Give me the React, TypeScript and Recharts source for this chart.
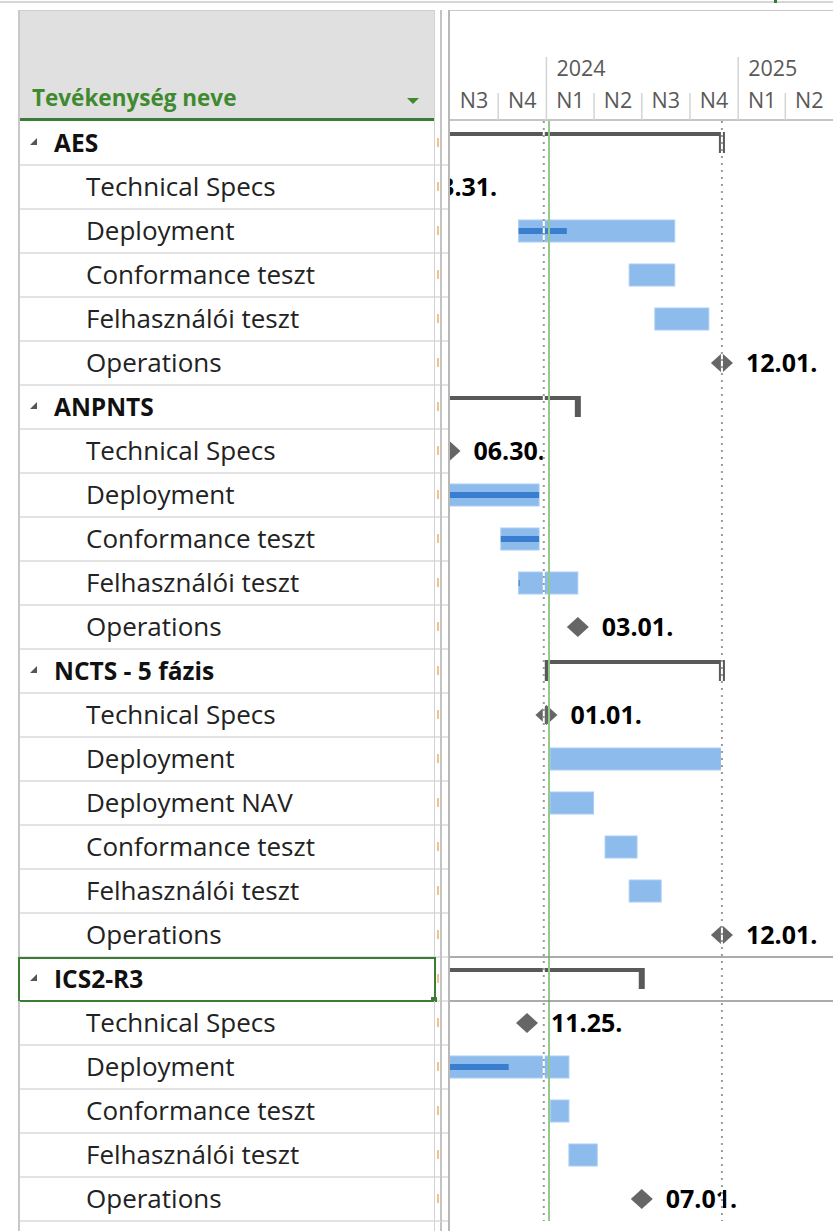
import { ComposedChart, Bar, XAxis, YAxis, ReferenceLine, ReferenceDot } from "recharts";

const FONT = '"Open Sans", "Noto Sans", sans-serif';

// rows of the task table, top to bottom
const rowNames = [
  "AES", "Technical Specs", "Deployment", "Conformance teszt", "Felhasználói teszt", "Operations",
  "ANPNTS", "Technical Specs", "Deployment", "Conformance teszt", "Felhasználói teszt", "Operations",
  "NCTS - 5 fázis", "Technical Specs", "Deployment", "Deployment NAV", "Conformance teszt", "Felhasználói teszt", "Operations",
  "ICS2-R3", "Technical Specs", "Deployment", "Conformance teszt", "Felhasználói teszt", "Operations",
];
// 0 = summary task, 1 = sub task
const rowLevels = [0, 1, 1, 1, 1, 1, 0, 1, 1, 1, 1, 1, 0, 1, 1, 1, 1, 1, 1, 0, 1, 1, 1, 1, 1];

const barStart: (string | null)[] = [
  "2023-03-31", null, "2023-11-09", "2024-06-07", "2024-07-26", null,
  "2023-01-02", null, "2023-01-02", "2023-10-06", "2023-11-09", null,
  "2024-01-01", null, "2024-01-08", "2024-01-08", "2024-04-22", "2024-06-07", null,
  "2023-04-01", null, "2023-04-01", "2024-01-09", "2024-02-13", null,
];
const barEnd: (string | null)[] = [
  "2024-12-01", null, "2024-09-02", "2024-09-02", "2024-11-06", null,
  "2024-03-01", null, "2023-12-18", "2023-12-18", "2024-03-01", null,
  "2024-12-01", null, "2024-11-30", "2024-03-31", "2024-06-22", "2024-08-07", null,
  "2024-07-01", null, "2024-02-13", "2024-02-13", "2024-04-07", null,
];
// % complete, shown as the date the progress reaches
const progressTo: (string | null)[] = [
  null, null, "2024-02-09", null, null, null,
  null, null, "2023-12-18", "2023-12-18", "2023-11-11", null,
  null, null, null, null, null, null, null,
  null, null, "2023-10-21", null, null, null,
];
const milestoneDate: (string | null)[] = [
  null, "2023-03-31", null, null, null, "2024-12-01",
  null, "2023-06-30", null, null, null, "2024-03-01",
  null, "2024-01-01", null, null, null, null, "2024-12-01",
  null, "2023-11-25", null, null, null, "2024-07-01",
];

const selectedRow = 19;
const quarterStarts = [
  "2023-07-01", "2023-10-01", "2024-01-01", "2024-04-01", "2024-07-01",
  "2024-10-01", "2025-01-01", "2025-04-01", "2025-07-01",
];
const quarterLabels = ["N3", "N4", "N1", "N2", "N3", "N4", "N1", "N2"];
const markerDates = ["2023-12-27", "2024-12-01"];
const todayDate = "2024-01-06";

const epoch = Date.parse(quarterStarts[0]);
const day = (s: string) => (Date.parse(s) - epoch) / 86400000;
const mmdd = (s: string) => `${s.slice(5, 7)}.${s.slice(8, 10)}.`;

const rows = rowNames.map((name, i) => ({
  id: `r${i}`,
  name,
  level: rowLevels[i],
  range: barStart[i] ? [day(barStart[i]!), day(barEnd[i]!)] : null,
  progress: progressTo[i] ? [day(barStart[i]!), day(progressTo[i]!)] : null,
}));

const domainMin = 0;
const domainMax = day(quarterStarts[quarterStarts.length - 1]);

function TaskShape(props: any) {
  const { x, y, width, height, payload } = props;
  if (!payload || !payload.range || width == null) return <g />;
  const cy = y + height / 2;
  if (payload.level === 0) {
    return (
      <g>
        <rect x={x} y={cy - 11} width={width} height={4} fill="#595959" />
        {payload.range[0] >= domainMin && <rect x={x - 3} y={cy - 11} width={6} height={21} fill="#595959" />}
        <rect x={x + width - 3} y={cy - 11} width={6} height={21} fill="#595959" />
      </g>
    );
  }
  return <rect x={x} y={y} width={width} height={height} fill="#8cbbec" stroke="#a9cdf3" strokeWidth={1} />;
}

function ProgressShape(props: any) {
  const { x, y, width, height, payload } = props;
  if (!payload || !payload.progress || width == null) return <g />;
  return <rect x={x} y={y} width={Math.max(width, 1)} height={height} fill="#3a7fcf" />;
}

function MilestoneShape(label: string) {
  return (props: any) => {
    const { cx, cy } = props;
    return (
      <g>
        <polygon points={`${cx - 11},${cy} ${cx},${cy - 10} ${cx + 11},${cy} ${cx},${cy + 10}`} fill="#666666" />
        <text x={cx + 24} y={cy + 9} fontFamily={FONT} fontSize={25} fontWeight={700} fill="#000">
          {label}
        </text>
      </g>
    );
  };
}

function QuarterTick(props: any) {
  const { x, index } = props;
  const label = quarterLabels[index];
  if (!label) return <g />;
  const isYear = label === "N1";
  return (
    <g>
      {index > 0 && <line x1={x} x2={x} y1={isYear ? 57 : 93} y2={120} stroke="#d4d4d4" strokeWidth={1.5} />}
      {isYear && (
        <text x={x + 10} y={76} fontFamily={FONT} fontSize={21.5} fill="#595959">
          {quarterStarts[index].slice(0, 4)}
        </text>
      )}
      <text x={x + 24} y={108} textAnchor="middle" fontFamily={FONT} fontSize={21.5} fill="#595959">
        {label}
      </text>
    </g>
  );
}

function RowTick(props: any) {
  const { y, payload } = props;
  const i = rows.findIndex((r) => r.id === payload.value);
  if (i < 0) return <g />;
  const r = rows[i];
  const top = y - 22;
  const bottom = y + 22;
  return (
    <g>
      {/* the table sits over anything drawn left of the timeline */}
      <rect x={0} y={top + 1} width={448} height={42} fill="#fff" />
      <line x1={20} x2={448} y1={bottom} y2={bottom} stroke="#dadada" strokeWidth={1.5} />
      <line x1={19} x2={19} y1={top} y2={bottom} stroke="#c8c8c8" strokeWidth={2} />
      <line x1={434.5} x2={434.5} y1={top} y2={bottom} stroke="#d2d2d2" strokeWidth={1} />
      <line x1={441} x2={441} y1={top} y2={bottom} stroke="#c4c4c4" strokeWidth={2} />
      <line x1={449} x2={449} y1={top} y2={bottom} stroke="#b8b8b8" strokeWidth={2} />
      <rect x={437} y={y - 5} width={2} height={9} fill="#f2b36a" opacity={0.8} />
      {r.level === 0 ? (
        <>
          <polygon points={`37,${y - 5} 37,${y + 2} 30,${y + 2}`} fill="#555" />
          <text x={54} y={y + 9} fontFamily={FONT} fontSize={24.5} fontWeight={700} fill="#111">
            {r.name}
          </text>
        </>
      ) : (
        <text x={86} y={y + 9} fontFamily={FONT} fontSize={26} fill="#222">
          {r.name}
        </text>
      )}
      {i === selectedRow && (
        <>
          <rect x={19} y={top + 1} width={416} height={43} fill="none" stroke="#3b7d34" strokeWidth={2} />
          <rect x={431} y={bottom - 4} width={6} height={6} fill="#3b7d34" />
          <line x1={450} x2={833} y1={top} y2={top} stroke="#8f8f8f" strokeWidth={1.5} />
          <line x1={450} x2={833} y1={bottom} y2={bottom} stroke="#8f8f8f" strokeWidth={1.5} />
        </>
      )}
    </g>
  );
}

const vline = (left: number, top: number, w: number, color: string) => (
  <div style={{ position: "absolute", left, top, width: w, bottom: 0, background: color }} />
);

export default function App() {
  return (
    <div style={{ position: "absolute", left: 0, top: 0, width: 833, height: 1231, background: "#fff", overflow: "hidden", fontFamily: FONT }}>
      {/* page chrome */}
      <div style={{ position: "absolute", left: 0, top: 1, width: 833, height: 2, background: "#d6d6d6" }} />
      <div style={{ position: "absolute", left: 774, top: 0, width: 3, height: 3, background: "#2e7d32" }} />
      <div style={{ position: "absolute", left: 449, top: 10, width: 384, height: 1, background: "#c8c8c8" }} />
      <div style={{ position: "absolute", left: 449, top: 119, width: 384, height: 2, background: "#c4c4c4" }} />
      <div style={{ position: "absolute", left: 18, top: 10, width: 416, height: 108, background: "#e0e0e0", borderTop: "1px solid #cfcfcf" }} />
      <div style={{ position: "absolute", left: 18, top: 118, width: 416, height: 3, background: "#3b7d34" }} />
      <div style={{ position: "absolute", left: 32, top: 82, fontSize: 22.5, fontWeight: 700, color: "#3f8a2f", whiteSpace: "nowrap" }}>
        Tevékenység neve
      </div>
      <div style={{ position: "absolute", left: 407, top: 98, width: 0, height: 0, borderLeft: "6px solid transparent", borderRight: "6px solid transparent", borderTop: "6px solid #3f8a2f" }} />
      {vline(18, 10, 2, "#c8c8c8")}
      {vline(434, 10, 1, "#d2d2d2")}
      {vline(440, 10, 2, "#c4c4c4")}
      {vline(448, 10, 2, "#b8b8b8")}

      <div style={{ position: "absolute", left: 0, top: 0 }}>
        <ComposedChart
          width={833}
          height={1231}
          data={rows}
          layout="vertical"
          margin={{ top: 0, right: 0, bottom: 10, left: 0 }}
        >
          <XAxis
            type="number"
            orientation="top"
            domain={[domainMin, domainMax]}
            allowDataOverflow
            ticks={quarterStarts.map(day)}
            interval={0}
            height={121}
            axisLine={false}
            tickLine={false}
            tick={<QuarterTick />}
          />
          <YAxis yAxisId="prog" type="category" dataKey="id" hide />
          <Bar yAxisId="main" dataKey="range" barSize={22} shape={<TaskShape />} isAnimationActive={false} />
          <Bar yAxisId="prog" dataKey="progress" barSize={6} shape={<ProgressShape />} isAnimationActive={false} />
          {rows.map((r, i) =>
            milestoneDate[i] ? (
              <ReferenceDot
                key={r.id}
                yAxisId="main"
                x={day(milestoneDate[i]!)}
                y={r.id}
                r={10}
                ifOverflow="visible"
                shape={MilestoneShape(mmdd(milestoneDate[i]!))}
                zIndex={400}
              />
            ) : null
          )}
          <YAxis
            yAxisId="main"
            type="category"
            dataKey="id"
            width={450}
            interval={0}
            axisLine={false}
            tickLine={false}
            tick={<RowTick />}
          />
          {markerDates.map((d) => (
            <ReferenceLine key={`w${d}`} yAxisId="main" x={day(d)} stroke="#ffffff" strokeWidth={2} zIndex={700} />
          ))}
          {markerDates.map((d) => (
            <ReferenceLine key={`d${d}`} yAxisId="main" x={day(d)} stroke="#9a9a9a" strokeWidth={2} strokeDasharray="2 5" zIndex={710} />
          ))}
          <ReferenceLine yAxisId="main" x={day(todayDate)} stroke="#92c98b" strokeWidth={2} zIndex={720} />
        </ComposedChart>
      </div>
    </div>
  );
}
